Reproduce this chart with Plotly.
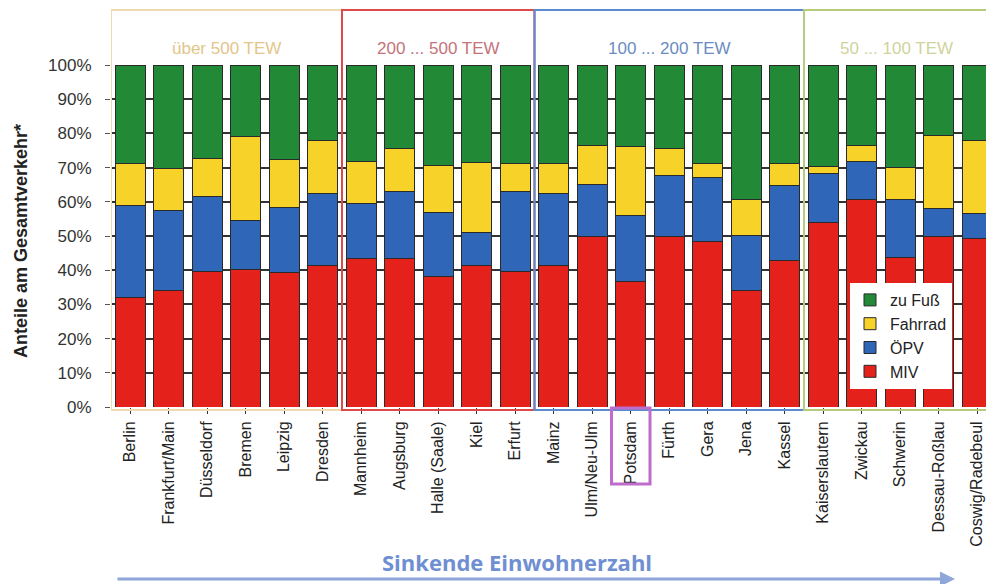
import plotly.graph_objects as go

cities = ["Berlin", "Frankfurt/Main", "Düsseldorf", "Bremen", "Leipzig", "Dresden",
          "Mannheim", "Augsburg", "Halle (Saale)", "Kiel", "Erfurt",
          "Mainz", "Ulm/Neu-Ulm", "Potsdam", "Fürth", "Gera", "Jena", "Kassel",
          "Kaiserslautern", "Zwickau", "Schwerin", "Dessau-Roßlau", "Coswig/Radebeul"]

miv     = [32.0, 34.0, 39.5, 40.3, 39.2, 41.5, 43.4, 43.4, 38.3, 41.3, 39.5,
           41.3, 49.8, 36.6, 50.0, 48.3, 34.0, 42.9, 54.0, 60.7, 43.7, 50.0, 49.3]
opv     = [26.8, 23.4, 22.0, 14.1, 19.0, 20.9, 16.1, 19.5, 18.6, 9.7, 23.6,
           21.1, 15.4, 19.5, 17.6, 18.8, 16.2, 22.0, 14.3, 11.2, 17.0, 8.1, 7.3]
fahrrad = [12.4, 12.4, 11.2, 24.8, 14.2, 15.6, 12.4, 12.7, 13.6, 20.5, 8.1,
           8.8, 11.2, 20.0, 8.0, 4.1, 10.5, 6.3, 1.9, 4.5, 9.2, 21.4, 21.4]
fuss    = [28.8, 30.2, 27.3, 20.8, 27.6, 22.0, 28.1, 24.4, 29.5, 28.5, 28.8,
           28.8, 23.6, 23.9, 24.4, 28.8, 39.3, 28.8, 29.8, 23.6, 30.1, 20.5, 22.0]

y_ticks = [0, 10, 20, 30, 40, 50, 60, 70, 80, 90, 100]
y_tick_labels = [f"{v}%" for v in y_ticks]

groups = [
    ("über 500 TEW", 0, 5, "#efdcae", "#e2c68a"),
    ("200 ... 500 TEW", 6, 10, "#de4a4a", "#c4737a"),
    ("100 ... 200 TEW", 11, 17, "#5b8bd0", "#6b8cc2"),
    ("50 ... 100 TEW", 18, 22, "#b7cb7c", "#cfd49c"),
]

series = [
    ("MIV", miv, "#e5211c"),
    ("ÖPV", opv, "#2f66b7"),
    ("Fahrrad", fahrrad, "#f7d228"),
    ("zu Fuß", fuss, "#228a37"),
]

W = 986
H = 584
left, top, bottom = 111, 65, 407
cat_w = 38.5
n = len(cities)
x_idx = list(range(n))
x_max = -0.5 + (W - left) / cat_w

fig = go.Figure()
for name, vals, col in series:
    fig.add_trace(go.Bar(
        x=x_idx, y=vals, name=name, width=0.78,
        marker=dict(color=col, line=dict(color="#2a2a2a", width=1)),
    ))

def py(pix):
    return (bottom - pix) / (bottom - top)

shapes = []
annotations = []
for label, i0, i1, box_col, txt_col in groups:
    shapes.append(dict(type="rect", xref="x", yref="paper",
                       x0=i0 - 0.5, x1=i1 + 0.5, y0=py(410), y1=py(10),
                       line=dict(color=box_col, width=2), layer="above"))
    cx = (i0 + i1) / 2 if i1 < n - 1 else 19.9
    annotations.append(dict(text=label, x=cx, xref="x", y=py(37), yref="paper",
                            xanchor="center", showarrow=False,
                            font=dict(size=17, color=txt_col, family="Liberation Sans")))

# Potsdam highlight
pi = cities.index("Potsdam")
shapes.append(dict(type="rect", xref="x", yref="paper",
                   x0=pi - 0.5, x1=pi + 0.5, y0=py(484), y1=py(408),
                   line=dict(color="#c06ccc", width=3), layer="above"))

# arrow
annotations.append(dict(text="", x=(955 - left) / (W - left), xref="paper",
                        y=py(579), yref="paper", ax=-839, ay=0,
                        axref="pixel", ayref="pixel", showarrow=True,
                        arrowhead=2, arrowsize=1, arrowwidth=3, arrowcolor="#8ea6da"))
annotations.append(dict(text="<b>Sinkende Einwohnerzahl</b>",
                        x=(517 - left) / (W - left), xref="paper", xanchor="center",
                        y=py(562), yref="paper", yanchor="middle", showarrow=False,
                        font=dict(size=22, color="#6f8fd2", family="Open Sans")))
# y-axis title
annotations.append(dict(text="<b>Anteile am Gesamtverkehr*</b>",
                        x=(21 - left) / (W - left), xref="paper", xanchor="center",
                        y=py(241), yref="paper", yanchor="middle",
                        showarrow=False, textangle=-90,
                        font=dict(size=18, color="#222", family="Liberation Sans")))

fig.update_layout(
    width=W, height=H,
    margin=dict(l=left, r=0, t=top, b=H - bottom, autoexpand=False),
    barmode="stack", bargap=0.22,
    paper_bgcolor="white", plot_bgcolor="white",
    font=dict(family="Liberation Sans", color="#222"),
    shapes=shapes, annotations=annotations,
    legend=dict(x=(850 - left) / (W - left), y=py(283), xanchor="left", yanchor="top",
                traceorder="reversed", bgcolor="white", borderwidth=0,
                font=dict(size=16, color="#222"), itemwidth=30),
    xaxis=dict(range=[-0.5, x_max], tickmode="array", tickvals=x_idx, ticktext=cities,
               tickangle=-90, tickfont=dict(size=16, color="#222"),
               ticks="outside", tickson="boundaries", ticklen=6, tickcolor="#333",
               showgrid=False, showline=False, zeroline=False,
               ticklabelstandoff=1),
    yaxis=dict(range=[0, 100], tickmode="array", tickvals=y_ticks, ticktext=y_tick_labels,
               tickfont=dict(size=17, color="#333"), ticks="outside", ticklen=5,
               tickcolor="#555", showgrid=True, gridcolor="#333333", gridwidth=1.5,
               zeroline=False, showline=False, ticklabelstandoff=10),
)

fig.write_html("out.html")
